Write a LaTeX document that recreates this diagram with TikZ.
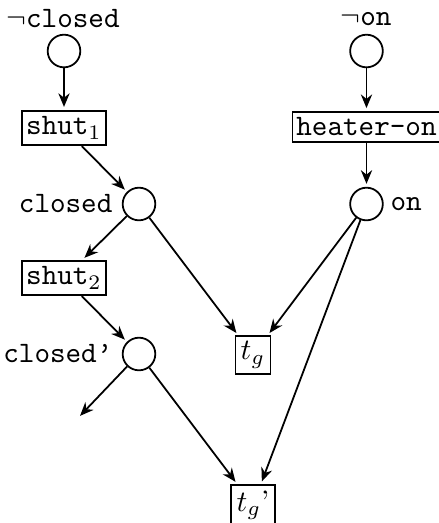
\documentclass[tikz,border=0pt]{standalone}
\usetikzlibrary{arrows.meta}
\begin{document}
\begin{tikzpicture}[x=0.337pt,y=-0.337pt,
  place/.style={circle,draw,line width=0.6pt,minimum size=11pt,inner sep=0pt},
  trans/.style={rectangle,draw,line width=0.6pt,inner xsep=1.3pt,inner ysep=2pt,font=\ttfamily},
  lbl/.style={font=\ttfamily,inner sep=0pt},
  arr/.style={-{Stealth[length=4.6pt,width=3.8pt,inset=1.5pt]},line width=0.6pt,shorten >=1pt}]
\useasboundingbox (0,0) rectangle (439,523);
% places
\node[place] (nc) at (64,51) {};
\node[lbl] (nclbl) at (63,19) {$\neg$closed};
\node[place] (non) at (366.5,51) {};
\node[lbl] (nonlbl) at (366,19) {$\neg$on};
\node[place] (cl) at (139,204) {};
\node[lbl,anchor=east] (cllbl) at (113,204) {closed};
\node[place] (on) at (366.5,204) {};
\node[lbl,anchor=west] (onlbl) at (390,204) {on};
\node[place] (clp) at (139,354) {};
\node[lbl,anchor=east] (clplbl) at (113,354) {closed\textquoteright};
% transitions
\node[trans] (s1) at (64,128) {shut$_1$};
\node[trans] (ho) at (366.5,127) {heater-on};
\node[trans] (s2) at (64,278) {shut$_2$};
\node[trans,font=\rmfamily,inner sep=1.8pt] (tg) at (253,355) {$t_g$};
\node[trans,font=\rmfamily,inner sep=1.8pt] (tgp) at (253,505) {$t_g$'};
\coordinate (free) at (78,418);
% arcs
\draw[arr] (nc) -- (s1);
\draw[arr] (s1) -- (cl);
\draw[arr] (cl) -- (s2);
\draw[arr] (cl) -- (tg);
\draw[arr] (s2) -- (clp);
\draw[arr] (clp) -- (tgp);
\draw[arr] (clp) -- (free);
\draw[arr] (non) -- (ho);
\draw[arr] (ho) -- (on);
\draw[arr] (on) -- (tg);
\draw[arr] (on) -- (tgp);
\end{tikzpicture}
\end{document}
